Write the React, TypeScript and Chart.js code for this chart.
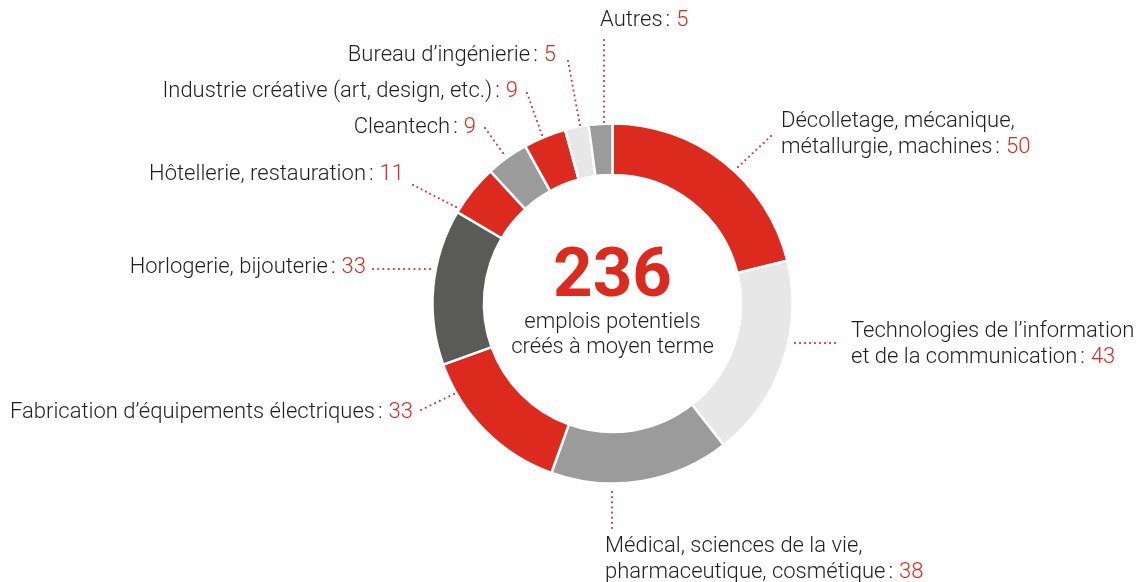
import React, { useEffect, useRef } from "react";
import { Chart, registerables } from "chart.js";

Chart.register(...registerables);

const categories = [
  "Décolletage, mécanique,\nmétallurgie, machines",
  "Technologies de l\u2019information\net de la communication",
  "Médical, sciences de la vie,\npharmaceutique, cosmétique",
  "Fabrication d\u2019équipements électriques",
  "Horlogerie, bijouterie",
  "Hôtellerie, restauration",
  "Cleantech",
  "Industrie créative (art, design, etc.)",
  "Bureau d\u2019ingénierie",
  "Autres",
];
const values = [50, 43, 38, 33, 33, 11, 9, 9, 5, 5];
const totalLabel = "236";
const centerLines = ["emplois potentiels", "créés à moyen terme"];

const RED = "#dc2a1e";
const LIGHT = "#e6e7e6";
const MID = "#9b9b9b";
const DARK = "#5a5a58";
const TEXT = "#1f1f1f";
const sliceColors = [RED, LIGHT, MID, RED, DARK, RED, MID, RED, LIGHT, MID];

// label layout: anchor x, center y of first line, alignment ("left" anchors at text start, "right" at text end)
const labelLayout = [
  { x: 781, y: 121, align: "left" },
  { x: 851, y: 331, align: "left" },
  { x: 605, y: 546, align: "left" },
  { x: 413, y: 412, align: "right" },
  { x: 366, y: 267, align: "right" },
  { x: 404, y: 174, align: "right" },
  { x: 476, y: 127, align: "right" },
  { x: 518, y: 91, align: "right" },
  { x: 556, y: 55, align: "right" },
  { x: 600, y: 20, align: "left" },
];
// leader lines [x1, y1, x2, y2]
const leaders = [
  [771, 136, 738, 167],
  [835, 343, 795, 343],
  [612, 492, 612, 528],
  [421, 410, 454, 394],
  [373, 269, 430, 269],
  [413, 185, 456, 207],
  [485, 128, 503, 153],
  [527, 93, 542, 135],
  [568, 61, 580, 125],
  [604, 40, 604, 122],
];

const FONT = "300 22px Roboto, 'Liberation Sans', sans-serif";
const LINE_H = 26;

const labelsPlugin = {
  id: "labelsPlugin",
  afterDraw(chart: any) {
    const ctx = chart.ctx as CanvasRenderingContext2D;
    const meta = chart.getDatasetMeta(0);
    ctx.save();
    ctx.fillStyle = RED;
    leaders.forEach(([x1, y1, x2, y2]) => {
      const len = Math.hypot(x2 - x1, y2 - y1);
      const n = Math.max(1, Math.round(len / 5));
      for (let k = 0; k <= n; k++) {
        const t = k / n;
        const x = x1 + (x2 - x1) * t;
        const y = y1 + (y2 - y1) * t;
        ctx.fillRect(x - 0.9, y - 0.9, 1.8, 1.8);
      }
    });
    ctx.font = FONT;
    ctx.textBaseline = "middle";
    ctx.textAlign = "left";
    categories.forEach((cat, i) => {
      const lines = cat.split("\n");
      const lay = labelLayout[i];
      const val = String(values[i]);
      lines.forEach((line, li) => {
        const y = lay.y + li * LINE_H;
        const isLast = li === lines.length - 1;
        const wName = ctx.measureText(line).width;
        const wColon = ctx.measureText(":").width;
        const wVal = ctx.measureText(val).width;
        const total = isLast ? wName + 3 + wColon + 6 + wVal : wName;
        let x = lay.align === "left" ? lay.x : lay.x - total;
        ctx.fillStyle = TEXT;
        ctx.fillText(line, x, y);
        if (isLast) {
          x += wName + 3;
          ctx.fillText(":", x, y);
          x += wColon + 6;
          ctx.fillStyle = RED;
          ctx.fillText(val, x, y);
        }
      });
    });
    const arc = meta.data[0];
    const cx = arc ? arc.x : chart.width / 2;
    const cy = arc ? arc.y : chart.height / 2;
    ctx.textAlign = "center";
    ctx.fillStyle = RED;
    ctx.font = "bold 69px Roboto, 'Liberation Sans', sans-serif";
    ctx.fillText(totalLabel, cx, cy - 25);
    ctx.fillStyle = TEXT;
    ctx.font = FONT;
    ctx.fillText(centerLines[0], cx, cy + 19);
    ctx.fillText(centerLines[1], cx, cy + 44);
    ctx.restore();
  },
};

export default function App() {
  const ref = useRef<HTMLCanvasElement>(null);
  useEffect(() => {
    document.body.style.margin = "0";
    const chart = new Chart(ref.current!, {
      type: "doughnut",
      data: {
        labels: categories.map((c) => c.replace("\n", " ")),
        datasets: [
          {
            data: values,
            backgroundColor: sliceColors,
            borderColor: "#ffffff",
            borderWidth: 2.5,
          },
        ],
      },
      options: {
        responsive: false,
        animation: false,
        cutout: 128,
        radius: 180,
        layout: { padding: { top: 123, bottom: 98, left: 432, right: 345 } },
        plugins: { legend: { display: false }, tooltip: { enabled: false } },
      },
      plugins: [labelsPlugin],
    });
    return () => chart.destroy();
  }, []);
  return (
    <div style={{ width: 1138, height: 582, background: "#fff" }}>
      <canvas ref={ref} width={1138} height={582} />
    </div>
  );
}
